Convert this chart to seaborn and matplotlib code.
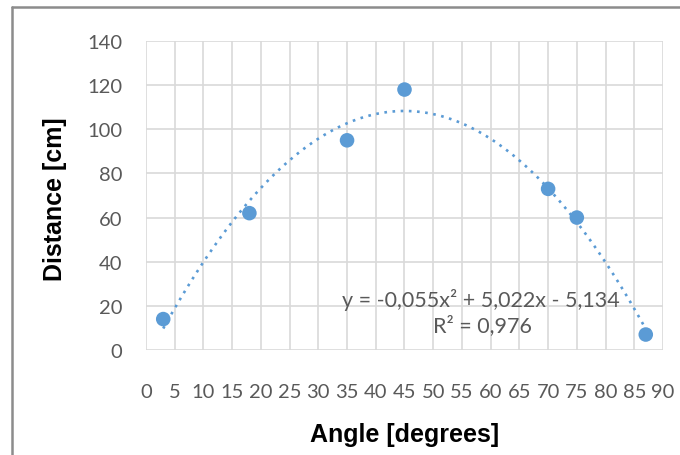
import numpy as np
import pandas as pd
import matplotlib
matplotlib.use('Agg')
import matplotlib.pyplot as plt
from matplotlib.lines import Line2D
import seaborn as sns

# 数据
angle = [3, 18, 35, 45, 70, 75, 87]
distance = [14, 62, 95, 118, 73, 60, 7]
eq_text = "y = -0,055x² + 5,022x - 5,134"
r2_text = "R² = 0,976"
x_ticks = list(range(0, 91, 5))
y_ticks = list(range(0, 141, 20))

df = pd.DataFrame({"Angle": angle, "Distance": distance})

sns.set_theme(style="whitegrid")
plt.rcParams['font.family'] = ['Lato', 'DejaVu Sans']

blue = '#5b9bd5'
grey_txt = '#595959'

fig = plt.figure(figsize=(6.8, 4.56), dpi=100)
ax = fig.add_axes([0.2147, 0.2303, 0.7603, 0.6776])

# 二次趋势线 + 散点
sns.regplot(data=df, x="Angle", y="Distance", order=2, ci=None, scatter=False,
            line_kws=dict(color=blue, lw=1.9, ls=(0, (1, 2.1))), ax=ax)
sns.scatterplot(data=df, x="Angle", y="Distance", color=blue, s=110,
                edgecolor='none', zorder=5, ax=ax)

ax.set_xlim(0, 90)
ax.set_ylim(0, 140)
ax.set_xticks(x_ticks)
ax.set_yticks(y_ticks)
ax.grid(True, color='#d9d9d9', lw=1.2)
for sp in ax.spines.values():
    sp.set_visible(False)
ax.tick_params(axis='x', pad=24, labelsize=14.5, colors=grey_txt, length=0)
ax.tick_params(axis='y', pad=17, labelsize=14.5, colors=grey_txt, length=0)

ax.set_xlabel("Angle [degrees]", fontsize=18, fontweight='bold', color='black',
              family=['Liberation Sans', 'DejaVu Sans'], va='center')
ax.set_ylabel("Distance [cm]", fontsize=18, fontweight='bold', color='black',
              family=['Liberation Sans', 'DejaVu Sans'], va='center')
ax.xaxis.set_label_coords(0.5, -0.272)
ax.yaxis.set_label_coords(-0.176, 0.49)

ax.text(0.647, 0.165, eq_text, transform=ax.transAxes, ha='center', va='center',
        fontsize=15.5, color=grey_txt)
ax.text(0.651, 0.083, r2_text, transform=ax.transAxes, ha='center', va='center',
        fontsize=15.5, color=grey_txt)

# 外框（左、上）
fig.add_artist(Line2D([12 / 680, 12 / 680], [0, 1 - 8 / 456], transform=fig.transFigure,
                      color='#8c8c8c', lw=1.8))
fig.add_artist(Line2D([12 / 680, 1], [1 - 8 / 456, 1 - 8 / 456], transform=fig.transFigure,
                      color='#8c8c8c', lw=1.8))

fig.savefig("out.png", dpi=100)
